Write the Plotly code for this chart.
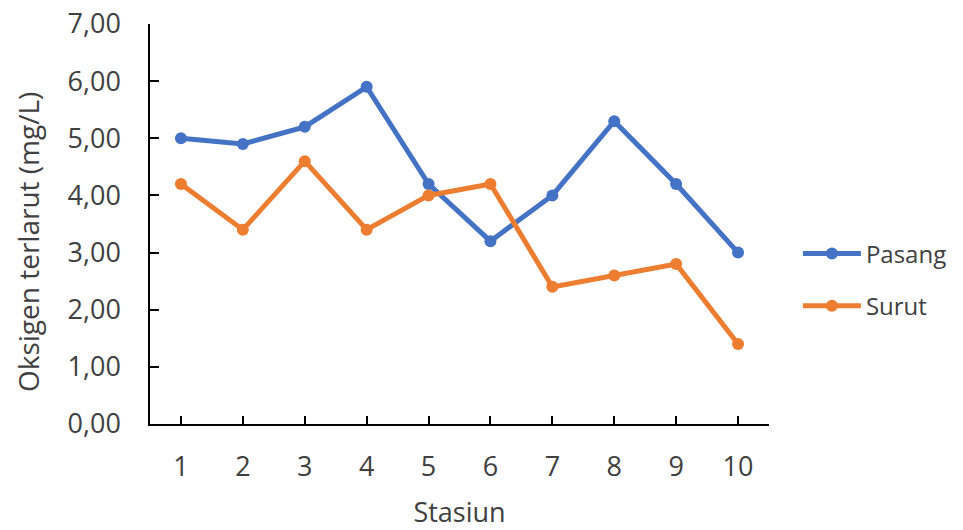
import plotly.graph_objects as go

stasiun = [1, 2, 3, 4, 5, 6, 7, 8, 9, 10]
pasang = [5.0, 4.9, 5.2, 5.9, 4.2, 3.2, 4.0, 5.3, 4.2, 3.0]
surut = [4.2, 3.4, 4.6, 3.4, 4.0, 4.2, 2.4, 2.6, 2.8, 1.4]
y_ticks = [0, 1, 2, 3, 4, 5, 6, 7]
y_tick_labels = ["0,00", "1,00", "2,00", "3,00", "4,00", "5,00", "6,00", "7,00"]

FONT = "Open Sans, Lato, sans-serif"
TXT = "#404040"

fig = go.Figure()
fig.add_trace(go.Scatter(
    x=stasiun, y=pasang, name="Pasang", mode="lines+markers",
    line=dict(color="#4472C4", width=5),
    marker=dict(color="#4472C4", size=12),
    legendgroup="a",
))
fig.add_trace(go.Scatter(
    x=stasiun, y=surut, name="Surut", mode="lines+markers",
    line=dict(color="#ED7D31", width=5),
    marker=dict(color="#ED7D31", size=12),
    legendgroup="b",
))

fig.update_layout(
    width=963, height=530,
    margin=dict(l=150, r=193, t=24, b=106),
    paper_bgcolor="white", plot_bgcolor="white",
    font=dict(family=FONT, size=26, color=TXT),
    showlegend=True,
    legend=dict(x=1.045, y=0.36, xanchor="left", yanchor="middle",
                font=dict(size=24, color=TXT), tracegroupgap=18,
                itemwidth=58, bgcolor="rgba(0,0,0,0)"),
    xaxis=dict(
        range=[0.5, 10.5],
        tickvals=stasiun + [10.5],
        ticktext=[str(s) for s in stasiun] + [""],
        showline=True, linecolor="black", linewidth=1.5,
        ticks="inside", ticklen=8, tickcolor="black", tickwidth=1.5,
        showgrid=False, zeroline=False,
        ticklabelstandoff=18,
        tickfont=dict(size=27, color=TXT),
        title=dict(text="Stasiun", font=dict(size=27, color=TXT), standoff=20),
        automargin=False,
    ),
    yaxis=dict(
        range=[0, 7],
        tickvals=y_ticks, ticktext=y_tick_labels,
        showline=True, linecolor="black", linewidth=1.5,
        ticks="inside", ticklen=9, tickcolor="black", tickwidth=1.5,
        showgrid=False, zeroline=False,
        ticklabelstandoff=22,
        tickfont=dict(size=27, color=TXT),
        automargin=False,
    ),
    annotations=[dict(
        text="Oksigen terlarut (mg/L)", textangle=-90,
        xref="paper", yref="paper", x=-0.197, y=0.455,
        xanchor="center", yanchor="middle", showarrow=False,
        font=dict(size=28, color=TXT),
    )],
)

fig.write_html("out.html")
